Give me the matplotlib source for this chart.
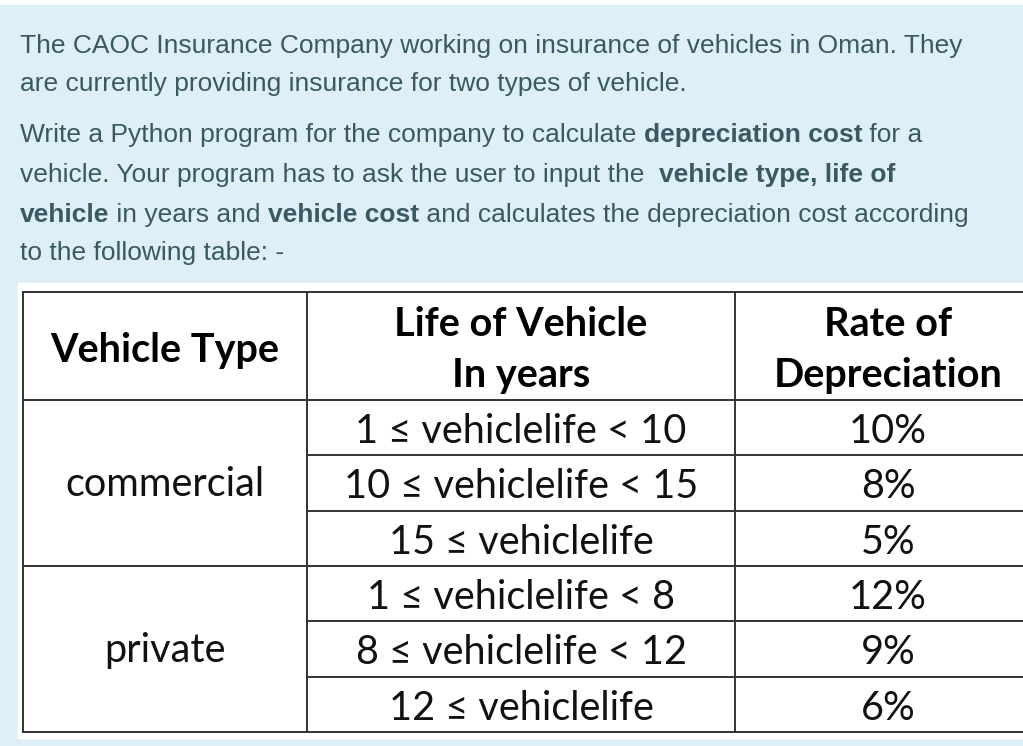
import matplotlib
matplotlib.use('Agg')
import matplotlib.pyplot as plt
from matplotlib.patches import Rectangle

# question text, split in (text, bold) runs per line
para_lines = [
    [("The CAOC Insurance Company working on insurance of vehicles in Oman. They", False)],
    [("are currently providing insurance for two types of vehicle.", False)],
    [("Write a Python program for the company to calculate ", False), ("depreciation cost", True), (" for a", False)],
    [("vehicle. Your program has to ask the user to input the  ", False), ("vehicle type, life of", True)],
    [("vehicle", True), (" in years and ", False), ("vehicle cost", True), (" and calculates the depreciation cost according", False)],
    [("to the following table: -", False)],
]
line_baselines = [53, 91, 142, 182, 222, 260]

# table data
headers = [["Vehicle Type"], ["Life of Vehicle", "In years"], ["Rate of", "Depreciation"]]
vehicle_types = ["commercial", "private"]
life_ranges = [
    ["1 ≤ vehiclelife < 10", "10 ≤ vehiclelife < 15", "15 ≤ vehiclelife"],
    ["1 ≤ vehiclelife < 8", "8 ≤ vehiclelife < 12", "12 ≤ vehiclelife"],
]
rates = [[10, 8, 5], [12, 9, 6]]

W, H = 1023, 746
BG = "#dfeff6"
TXT = "#3a5963"
LINE = "#333333"

fig = plt.figure(figsize=(W / 100, H / 100), dpi=100)
fig.patch.set_facecolor("white")
ax = fig.add_axes([0, 0, 1, 1])
ax.set_xlim(0, W)
ax.set_ylim(H, 0)
ax.axis("off")

ax.add_patch(Rectangle((0, 5), W, H, color=BG, zorder=0))
ax.add_patch(Rectangle((18, 283), W, 455, color="white", zorder=1))

# paragraph with mixed bold runs
renderer = fig.canvas.get_renderer()
para_font = ["Liberation Sans", "DejaVu Sans"]
for runs, yb in zip(para_lines, line_baselines):
    x = 20
    for s, bold in runs:
        t = ax.text(x, yb, s, fontsize=19.0, family=para_font, color=TXT,
                    fontweight="bold" if bold else "normal", va="baseline", ha="left", zorder=3)
        bb = t.get_window_extent(renderer)
        x += bb.width

# table grid
col_edges = [23, 307, 735, 1041]
head_top, head_bot = 292, 400
row_h = (732 - head_bot) / 6
row_edges = [head_bot + i * row_h for i in range(7)]
tbl_font = ["Lato", "DejaVu Sans"]
lw = 1.4

ax.plot([col_edges[0], col_edges[-1]], [head_top, head_top], color=LINE, lw=lw, zorder=4)
ax.plot([col_edges[0], col_edges[-1]], [head_bot, head_bot], color=LINE, lw=lw, zorder=4)
ax.plot([col_edges[0], col_edges[-1]], [row_edges[-1], row_edges[-1]], color=LINE, lw=lw, zorder=4)
ax.plot([col_edges[0], col_edges[-1]], [row_edges[3], row_edges[3]], color=LINE, lw=lw, zorder=4)
for i in (1, 2, 4, 5):
    ax.plot([col_edges[1], col_edges[-1]], [row_edges[i], row_edges[i]], color=LINE, lw=lw, zorder=4)
for cx in col_edges[:3]:
    ax.plot([cx, cx], [head_top, row_edges[-1]], color=LINE, lw=lw, zorder=4)

centers = [(col_edges[i] + col_edges[i + 1]) / 2 for i in range(3)]

# headers
fs = 28.5
for ci, lines in enumerate(headers):
    if len(lines) == 1:
        ax.text(centers[ci], 362, lines[0], fontsize=fs, family=tbl_font, fontweight="bold",
                ha="center", va="baseline", color="black", zorder=5)
    else:
        for li, s in enumerate(lines):
            ax.text(centers[ci], 336 + 51 * li, s, fontsize=fs, family=tbl_font, fontweight="bold",
                    ha="center", va="baseline", color="black", zorder=5)

# body
for gi, vt in enumerate(vehicle_types):
    top = row_edges[gi * 3]
    ax.text(centers[0], top + 1.5 * row_h + 13, vt, fontsize=fs, family=tbl_font,
            ha="center", va="baseline", color="#111111", zorder=5)
    for ri in range(3):
        y = row_edges[gi * 3 + ri] + 43
        ax.text(centers[1], y, life_ranges[gi][ri], fontsize=fs, family=tbl_font,
                ha="center", va="baseline", color="#111111", zorder=5)
        ax.text(centers[2], y, f"{rates[gi][ri]}%", fontsize=fs, family=tbl_font,
                ha="center", va="baseline", color="#111111", zorder=5)

fig.savefig("out.png", dpi=100, facecolor=fig.get_facecolor())
